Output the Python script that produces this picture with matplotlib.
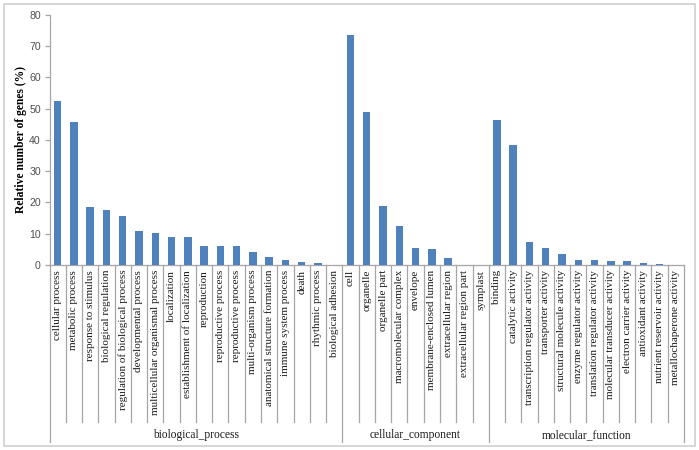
import matplotlib
matplotlib.use("Agg")
import matplotlib.pyplot as plt
from matplotlib.patches import Rectangle
from matplotlib.lines import Line2D
import numpy as np

bp_terms = ["cellular process", "metabolic process", "response to stimulus",
            "biological regulation", "regulation of biological process",
            "developmental process", "multicellular organismal process",
            "localization", "establishment of localization", "reproduction",
            "reproductive process", "reproductive process", "multi-organism process",
            "anatomical structure formation", "immune system process", "death",
            "rhythmic process", "biological adhesion"]
bp_values = [52.4, 45.8, 18.5, 17.7, 15.7, 10.8, 10.2, 9.1, 8.8, 6.1, 6.0, 6.0,
             4.0, 2.6, 1.5, 0.9, 0.5, 0.1]

cc_terms = ["cell", "organelle", "organelle part", "macromolecular complex",
            "envelope", "membrane-enclosed lumen", "extracellular region",
            "extracellular region part", "symplast"]
cc_values = [73.5, 48.8, 18.7, 12.4, 5.3, 5.1, 2.1, 0.1, 0.05]

mf_terms = ["binding", "catalytic activity", "transcription regulator activity",
            "transporter activity", "structural molecule activity",
            "enzyme regulator activity", "translation regulator activity",
            "molecular transducer activity", "electron carrier activity",
            "antioxidant activity", "nutrient reservoir activity",
            "metallochaperone activity"]
mf_values = [46.2, 38.2, 7.2, 5.4, 3.4, 1.7, 1.5, 1.3, 1.2, 0.6, 0.3, 0.05]

groups = ["biological_process", "cellular_component", "molecular_function"]
group_terms = [bp_terms, cc_terms, mf_terms]
group_values = [bp_values, cc_values, mf_values]

yticks = [0, 10, 20, 30, 40, 50, 60, 70, 80]
ylabel = "Relative number of genes (%)"

terms = [t for g in group_terms for t in g]
values = [v for g in group_values for v in g]
n = len(terms)
x = np.arange(n)

W, H = 699, 450
fig = plt.figure(figsize=(W / 100, H / 100), dpi=100)
fig.patch.set_facecolor("white")
fig.patches.append(Rectangle((3.5 / W, 1 - 446 / H), 691.5 / W, 442 / H,
                             transform=fig.transFigure, fill=False,
                             edgecolor="#d0d0d0", linewidth=1.2))

ax_left, ax_right, ax_top, ax_bot = 49.5, 684, 14.7, 265
ax = fig.add_axes([ax_left / W, 1 - ax_bot / H, (ax_right - ax_left) / W,
                   (ax_bot - ax_top) / H])

ax.bar(x, values, width=0.46, color="#4F81BD", zorder=3)
ax.set_xlim(-0.5, n - 0.5)
ax.set_ylim(0, 80)

axis_col = "#a6a6a6"
for s in ["top", "right"]:
    ax.spines[s].set_visible(False)
ax.spines["left"].set_color(axis_col)
ax.spines["bottom"].set_color(axis_col)
ax.spines["left"].set_linewidth(0.9)
ax.spines["bottom"].set_linewidth(0.9)

ax.set_yticks(yticks)
ax.set_yticklabels([str(t) for t in yticks], fontsize=7.6, color="#505050",
                   family="Liberation Sans")
ax.tick_params(axis="y", length=3.3, color=axis_col, width=0.9, pad=3)

ax.set_xticks(x)
ax.set_xticklabels(terms, rotation=90, fontsize=8.05, family="Liberation Serif",
                   color="#1a1a1a", va="top", ha="center")
ax.tick_params(axis="x", length=0, pad=3.5)

ax.set_ylabel(ylabel, fontsize=8.4, fontweight="bold", family="Liberation Serif")
ax.yaxis.set_label_coords(-(ax_left - 21.5) / (ax_right - ax_left), 0.5)
ax.yaxis.label.set_va("center")

axh = ax_bot - ax_top
def ay(py):
    return (ax_bot - py) / axh

trans = ax.get_xaxis_transform()
sizes = [len(g) for g in group_terms]
bounds = np.cumsum([0] + sizes)
group_edges = set(bounds.tolist())
for b in range(n + 1):
    y_end = ay(442) if b in group_edges else ay(421.5)
    ax.add_line(Line2D([b - 0.5, b - 0.5], [0, y_end], transform=trans,
                       color=axis_col, linewidth=0.9, clip_on=False))

for gi, name in enumerate(groups):
    cx = (bounds[gi] + bounds[gi + 1]) / 2 - 0.5
    ax.text(cx, ay(435), name, transform=trans, ha="center", va="center",
            fontsize=8.3, family="Liberation Serif", color="#1a1a1a")

fig.savefig("out.png", dpi=100, facecolor="white")
